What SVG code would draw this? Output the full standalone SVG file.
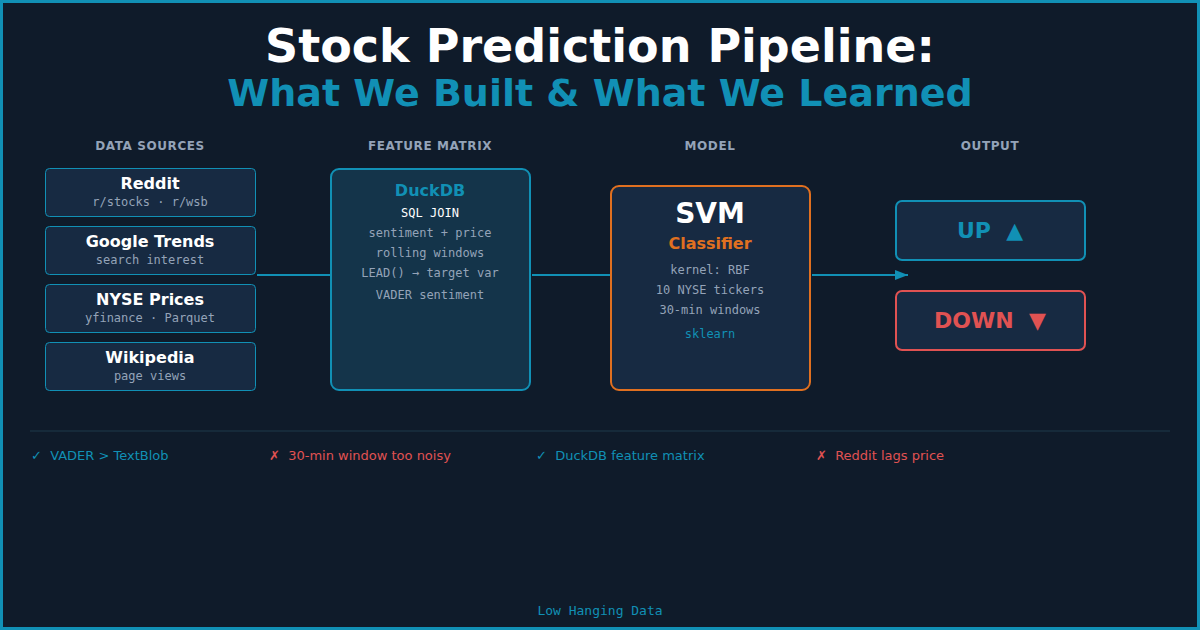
<svg xmlns="http://www.w3.org/2000/svg" width="1200" height="630" viewBox="0 0 1200 630">
<defs>
<style>
.hdr{font-family:"DejaVu Sans",sans-serif;font-weight:bold;font-size:12px;fill:#94a3b8;text-anchor:middle;letter-spacing:0.6px}
.src{fill:#172a42;stroke:#1190b5;stroke-width:1}
.st{font-family:"DejaVu Sans",sans-serif;font-weight:bold;font-size:16px;fill:#ffffff;text-anchor:middle}
.mono{font-family:"DejaVu Sans Mono",monospace;font-size:12px;fill:#94a3b8;text-anchor:middle}
.conn{stroke:#1190b5;stroke-width:2;fill:none}
.note{font-family:"DejaVu Sans",sans-serif;font-size:13px}
</style>
<marker id="arr" markerWidth="14" markerHeight="12" refX="13" refY="5" orient="auto" markerUnits="userSpaceOnUse">
<path d="M0,0 L13,5 L0,10 Z" fill="#1190b5"/>
</marker>
</defs>
<rect x="1.5" y="1.5" width="1197" height="627" fill="#0f1b2a" stroke="#1190b5" stroke-width="3"/>
<text x="600" y="62" font-family="DejaVu Sans,sans-serif" font-weight="bold" font-size="46" fill="#ffffff" text-anchor="middle">Stock Prediction Pipeline:</text>
<text x="600" y="106" font-family="DejaVu Sans,sans-serif" font-weight="bold" font-size="38" fill="#1190b5" text-anchor="middle">What We Built &amp; What We Learned</text>

<text class="hdr" x="150" y="150">DATA SOURCES</text>
<text class="hdr" x="430" y="150">FEATURE MATRIX</text>
<text class="hdr" x="710" y="150">MODEL</text>
<text class="hdr" x="990" y="150">OUTPUT</text>

<g id="connectors">
<line class="conn" x1="257" y1="275" x2="331" y2="275"/>
<line class="conn" x1="532" y1="275" x2="611" y2="275"/>
<line class="conn" x1="812" y1="275" x2="908" y2="275" marker-end="url(#arr)"/>
</g>

<g id="reddit">
<rect class="src" x="45.5" y="168.5" width="210" height="48" rx="4"/>
<text class="st" x="150" y="189">Reddit</text>
<text class="mono" x="150" y="206" font-size="11">r/stocks · r/wsb</text>
</g>
<g id="google">
<rect class="src" x="45.5" y="226.5" width="210" height="48" rx="4"/>
<text class="st" x="150" y="247">Google Trends</text>
<text class="mono" x="150" y="264" font-size="11">search interest</text>
</g>
<g id="nyse">
<rect class="src" x="45.5" y="284.5" width="210" height="48" rx="4"/>
<text class="st" x="150" y="305">NYSE Prices</text>
<text class="mono" x="150" y="322" font-size="11">yfinance · Parquet</text>
</g>
<g id="wikipedia">
<rect class="src" x="45.5" y="342.5" width="210" height="48" rx="4"/>
<text class="st" x="150" y="363">Wikipedia</text>
<text class="mono" x="150" y="380" font-size="11">page views</text>
</g>

<g id="duckdb">
<rect x="331" y="169" width="199" height="221" rx="8" fill="#14344a" stroke="#1190b5" stroke-width="2"/>
<text x="430" y="196" font-family="DejaVu Sans,sans-serif" font-weight="bold" font-size="16" fill="#1190b5" text-anchor="middle">DuckDB</text>
<text class="mono" x="430" y="217" style="fill:#ffffff">SQL JOIN</text>
<text class="mono" x="430" y="237">sentiment + price</text>
<text class="mono" x="430" y="257">rolling windows</text>
<text class="mono" x="430" y="277">LEAD() → target var</text>
<text class="mono" x="430" y="299">VADER sentiment</text>
</g>

<g id="svm">
<rect x="611" y="186" width="199" height="204" rx="8" fill="#172a42" stroke="#e07020" stroke-width="2"/>
<text x="710" y="223" font-family="DejaVu Sans,sans-serif" font-weight="bold" font-size="28" fill="#ffffff" text-anchor="middle">SVM</text>
<text x="710" y="249" font-family="DejaVu Sans,sans-serif" font-weight="bold" font-size="16" fill="#e07020" text-anchor="middle">Classifier</text>
<text class="mono" x="710" y="274">kernel: RBF</text>
<text class="mono" x="710" y="294">10 NYSE tickers</text>
<text class="mono" x="710" y="314">30-min windows</text>
<text class="mono" x="710" y="338" style="fill:#1190b5">sklearn</text>
</g>

<g id="up">
<rect x="896" y="201" width="189" height="59" rx="6" fill="#172a42" stroke="#1190b5" stroke-width="2"/>
<text x="990" y="238" font-family="DejaVu Sans,sans-serif" font-weight="bold" font-size="22" fill="#1190b5" text-anchor="middle" xml:space="preserve">UP  ▲</text>
</g>
<g id="down">
<rect x="896" y="291" width="189" height="59" rx="6" fill="#172a42" stroke="#e05252" stroke-width="2"/>
<text x="990" y="328" font-family="DejaVu Sans,sans-serif" font-weight="bold" font-size="22" fill="#e05252" text-anchor="middle" xml:space="preserve">DOWN  ▼</text>
</g>

<line x1="30" y1="431" x2="1170" y2="431" stroke="#1e3a4a" stroke-width="1"/>
<text class="note" x="31" y="460" fill="#1190b5" xml:space="preserve">✓  VADER &gt; TextBlob</text>
<text class="note" x="269" y="460" fill="#e05252" xml:space="preserve">✗  30-min window too noisy</text>
<text class="note" x="536" y="460" fill="#1190b5" xml:space="preserve">✓  DuckDB feature matrix</text>
<text class="note" x="816" y="460" fill="#e05252" xml:space="preserve">✗  Reddit lags price</text>

<text x="600" y="615" font-family="DejaVu Sans Mono,monospace" font-size="13" fill="#1190b5" text-anchor="middle">Low Hanging Data</text>
</svg>
